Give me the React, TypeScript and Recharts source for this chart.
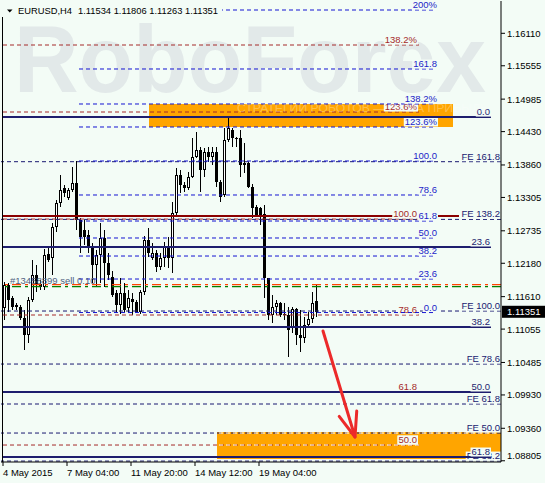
import React from "react";
import { ComposedChart, Bar, XAxis, YAxis, ReferenceLine, ReferenceArea } from "recharts";

const BG = "#F3FCF6";
const FONT = "'Liberation Sans', Arial, sans-serif";
const FS = 9.5;

// EURUSD H4 candles
const opens = [
  1.11415, 1.11808, 1.11586, 1.11467, 1.11432, 1.11244, 1.10954, 1.11552, 1.11979, 1.11826,
  1.11774, 1.12338, 1.1227, 1.128, 1.1321, 1.13466, 1.13295, 1.13432, 1.13552, 1.12919,
  1.12748, 1.12663, 1.12458, 1.1215, 1.12321, 1.12612, 1.12184, 1.11945, 1.11672, 1.11467,
  1.11672, 1.11415, 1.11569, 1.11518, 1.11347, 1.11689, 1.12577, 1.1227, 1.12355, 1.12116,
  1.1227, 1.12458, 1.1227, 1.13039, 1.13688, 1.13517, 1.13466, 1.13654, 1.13996, 1.14116,
  1.13774, 1.14081, 1.13996, 1.14081, 1.13569, 1.13346, 1.14286, 1.14457, 1.14321, 1.14321,
  1.13893, 1.13893, 1.13483, 1.13141, 1.13124, 1.13022, 1.11928, 1.11296, 1.11432, 1.11501,
  1.11313, 1.11296, 1.11073, 1.11398, 1.10954, 1.10903, 1.11125, 1.11227, 1.11534,
];
const highs = [
  1.1186, 1.11843, 1.1162, 1.11501, 1.11467, 1.11381, 1.11603, 1.12236, 1.1215, 1.11894,
  1.12424, 1.12458, 1.12868, 1.13261, 1.13688, 1.13517, 1.13466, 1.13825, 1.13928, 1.12953,
  1.12919, 1.12748, 1.12526, 1.12407, 1.12868, 1.12748, 1.12355, 1.12048, 1.11723, 1.11928,
  1.11843, 1.11723, 1.11672, 1.11552, 1.11723, 1.12646, 1.12782, 1.12526, 1.12407, 1.12355,
  1.12543, 1.12629, 1.13227, 1.13808, 1.13774, 1.13569, 1.1374, 1.14321, 1.14423, 1.14167,
  1.1415, 1.14167, 1.14167, 1.14167, 1.13603, 1.14492, 1.14662, 1.14492, 1.14338, 1.14457,
  1.14235, 1.1391, 1.13535, 1.13176, 1.13141, 1.13176, 1.11928, 1.11637, 1.11552, 1.11518,
  1.11501, 1.11432, 1.11432, 1.11415, 1.11381, 1.11262, 1.11347, 1.11689, 1.11806,
];
const lows = [
  1.1121, 1.11347, 1.11381, 1.11381, 1.1121, 1.10698, 1.10817, 1.11518, 1.11689, 1.11723,
  1.11723, 1.12201, 1.11979, 1.12714, 1.13141, 1.13312, 1.13261, 1.13398, 1.12748, 1.12355,
  1.12492, 1.12355, 1.11843, 1.11774, 1.11843, 1.11774, 1.11894, 1.11603, 1.1133, 1.11313,
  1.11347, 1.1133, 1.11296, 1.1133, 1.11313, 1.11637, 1.12287, 1.12236, 1.12031, 1.12065,
  1.12116, 1.12099, 1.12013, 1.13005, 1.13381, 1.13398, 1.13432, 1.13637, 1.13979, 1.13398,
  1.13654, 1.1391, 1.13859, 1.13483, 1.13227, 1.13312, 1.14252, 1.14167, 1.14167, 1.13654,
  1.13722, 1.13466, 1.12953, 1.13056, 1.12834, 1.11586, 1.1121, 1.11159, 1.11296, 1.11262,
  1.1121, 1.10578, 1.10988, 1.10783, 1.10663, 1.10817, 1.11073, 1.11159, 1.11263,
];
const closes = [
  1.11808, 1.11552, 1.11432, 1.11432, 1.11244, 1.10954, 1.11552, 1.11979, 1.11808, 1.11774,
  1.12321, 1.12236, 1.128, 1.1321, 1.13432, 1.13381, 1.13432, 1.13552, 1.12919, 1.12629,
  1.12629, 1.12441, 1.1215, 1.12321, 1.12612, 1.12184, 1.11979, 1.11637, 1.11467, 1.11672,
  1.11381, 1.11586, 1.11518, 1.11347, 1.11689, 1.12577, 1.12355, 1.12355, 1.12116, 1.1227,
  1.12458, 1.1227, 1.13039, 1.13688, 1.13517, 1.13466, 1.13654, 1.13996, 1.14116, 1.13774,
  1.14081, 1.13996, 1.14081, 1.13569, 1.13312, 1.14286, 1.14492, 1.14321, 1.14303, 1.13859,
  1.13859, 1.13483, 1.13124, 1.1297, 1.1297, 1.11928, 1.11296, 1.11432, 1.11501, 1.11296,
  1.11296, 1.11039, 1.11398, 1.10954, 1.10903, 1.11125, 1.11227, 1.11501, 1.11351,
];

const SLOTS = 125; // chart shifted, empty bars on the right
const xTickIdx = [0, 16, 32, 48, 64];
const xTickLabels = ["4 May 2015", "7 May 04:00", "11 May 20:00", "14 May 12:00", "19 May 04:00"];
const yTicks = [
  1.1611, 1.15555, 1.14985, 1.1443, 1.1386, 1.13305, 1.12735, 1.1218, 1.1161, 1.11055,
  1.10485, 1.0993, 1.0936, 1.08805,
];
const yDomain = [1.08784, 1.16662];

// blue fibo expansion, drawn from bar 19 to bar 108
const blueLabels = ["200%", "161.8", "138.2%", "123.6%", "100.0", "78.6", "61.8", "50.0", "38.2", "23.6", "0.0"];
const blueLevels = [1.16508, 1.155, 1.14902, 1.14509, 1.13928, 1.13347, 1.12902, 1.12612, 1.12304, 1.11911, 1.11338];
// brown fibo, bar 0 to 104
const brownLabels = ["138.2%", "123.6%", "100.0", "78.6", "61.8", "50.0"];
const brownLevels = [1.1591, 1.14765, 1.12936, 1.11296, 1.0998, 1.09074];
// navy solid fibo, bar 0 to 122
const navyLabels = ["0.0", "23.6", "38.2", "50.0", "61.8"];
const navyLevels = [1.14678, 1.12458, 1.11091, 1.0998, 1.08869];
// FE levels, full width
const feLabels = ["FE 161.8", "FE 138.2", "FE 100.0", "FE 78.6", "FE 61.8", "FE 50.0", "FE 38.2"];
const feLevels = [1.13916, 1.1293, 1.11364, 1.10458, 1.09775, 1.09279, 1.088];

const resistance = 1.12988;
const orderSell = 1.11814;
const orderStop = 1.1178;
const lastPrice = 1.11351;
const topZone = [1.14509, 1.14902];
const bottomZone = [1.08835, 1.09296];
const arrowFrom = { x: 80, y: 1.11022 };
const arrowTo = { x: 88, y: 1.09211 };

const rows = Array.from({ length: SLOTS }, (_, i) =>
  i < opens.length
    ? { i, o: opens[i], h: highs[i], l: lows[i], c: closes[i], range: [lows[i], highs[i]] }
    : { i }
);

function textWidth(s: string, fs: number) {
  let w = 0;
  for (const ch of s) {
    if (ch === "." || ch === " ") w += 0.278;
    else if (ch === "%") w += 0.889;
    else if (ch === "F") w += 0.611;
    else if (ch === "E") w += 0.667;
    else w += 0.556;
  }
  return w * fs;
}

const endLabel = (text: string, color: string, dx: number) => (props: any) => {
  const vb = props.viewBox;
  if (!vb) return null;
  const right = vb.x + vb.width + dx;
  const base = vb.y - 2;
  const w = textWidth(text, FS);
  return (
    <g>
      <rect x={right - w - 1} y={base - 7.5} width={w + 2} height={9} fill={BG} />
      <text x={right} y={base} textAnchor="end" fontSize={FS} fontFamily={FONT} fill={color}>
        {text}
      </text>
    </g>
  );
};

function Candle(props: any) {
  const { x, y, width, height, payload } = props;
  if (!payload || payload.o == null) return null;
  const { o, h, l, c } = payload;
  const py = (p: number) => y + ((h - p) / (h - l || 1)) * height;
  const cx = Math.round(x + width / 2);
  const top = Math.round(py(Math.max(o, c)));
  const bot = Math.round(py(Math.min(o, c)));
  const up = c >= o;
  return (
    <g>
      <line x1={cx + 0.5} x2={cx + 0.5} y1={Math.round(y)} y2={Math.round(y + height)} stroke="#000" />
      {bot - top < 2 ? (
        <line x1={cx - 1} x2={cx + 2} y1={top + 0.5} y2={top + 0.5} stroke="#000" />
      ) : up ? (
        <rect x={cx - 0.5} y={top + 0.5} width={2} height={bot - top - 1} fill="#fff" stroke="#000" />
      ) : (
        <rect x={cx - 1} y={top} width={3} height={bot - top} fill="#000" />
      )}
    </g>
  );
}

function Arrow(props: any) {
  const { x1, y1, x2, y2 } = props;
  const a = Math.atan2(y2 - y1, x2 - x1);
  const len = 26;
  const s = 0.36;
  const w1x = x2 - len * Math.cos(a - s);
  const w1y = y2 - len * Math.sin(a - s);
  const w2x = x2 - len * Math.cos(a + s);
  const w2y = y2 - len * Math.sin(a + s);
  return (
    <g stroke="#EC2A2A" strokeWidth={3} fill="none" strokeLinecap="round" strokeLinejoin="round">
      <line x1={x1} y1={y1} x2={x2} y2={y2} />
      <polyline points={`${w1x},${w1y} ${x2},${y2} ${w2x},${w2y}`} />
    </g>
  );
}

function XTick(props: any) {
  const { x, y, payload } = props;
  const k = xTickIdx.indexOf(payload.value);
  if (k < 0) return null;
  return (
    <text x={x} y={y + 8} fontSize={FS} fontFamily={FONT} fill="#000">
      {xTickLabels[k]}
    </text>
  );
}

function YTick(props: any) {
  const { x, y, payload } = props;
  return (
    <text x={x} y={Math.min(y + 3.5, 459)} fontSize={FS} fontFamily={FONT} fill="#000">
      {Number(payload.value).toFixed(5)}
    </text>
  );
}

const PriceBox = (props: any) => {
  const vb = props.viewBox;
  if (!vb) return null;
  const x = vb.x + vb.width + 1;
  return (
    <g>
      <rect x={x} y={vb.y - 6} width={44} height={12} fill="#000" />
      <text x={x + 5} y={vb.y + 3.5} fontSize={FS} fontFamily={FONT} fill="#fff">
        {lastPrice.toFixed(5)}
      </text>
    </g>
  );
};

const OrderLabel = (props: any) => {
  const vb = props.viewBox;
  if (!vb) return null;
  return (
    <text x={vb.x + 9} y={vb.y - 1} fontSize={FS} fontFamily={FONT} fill="#4F6080">
      #13458899 sell 0.10
    </text>
  );
};

export default function App() {
  return (
    <div style={{ position: "absolute", left: 0, top: 0, width: 545, height: 483, background: BG, overflow: "hidden" }}>
      <svg width={545} height={483} style={{ position: "absolute", left: 0, top: 0 }}>
        <text
          x={14}
          y={92}
          fontSize={94}
          fontWeight={700}
          fontFamily={FONT}
          fill="#E2E9E9"
          textLength={472}
          lengthAdjust="spacingAndGlyphs"
        >
          RoboForex
        </text>
      </svg>
      <div style={{ position: "absolute", left: 0, top: 0 }}>
        <ComposedChart width={545} height={483} data={rows} margin={{ top: 1, right: 0, bottom: 0, left: 1 }}>
          <XAxis
            dataKey="i"
            type="category"
            ticks={xTickIdx}
            interval={0}
            height={21}
            tickSize={4}
            tickMargin={2}
            tick={<XTick />}
            axisLine={{ stroke: "#000" }}
            tickLine={{ stroke: "#000" }}
          />
          <YAxis
            orientation="right"
            type="number"
            domain={yDomain}
            allowDataOverflow
            ticks={yTicks}
            interval={0}
            width={44}
            tickSize={4}
            tickMargin={2}
            tick={<YTick />}
            axisLine={{ stroke: "#000" }}
            tickLine={{ stroke: "#000" }}
          />
          <ReferenceArea x1={37} x2={112} y1={topZone[0]} y2={topZone[1]} fill="#FFA500" fillOpacity={1} stroke="none" />

          <ReferenceLine
            segment={[{ x: 0, y: resistance }, { x: 114, y: resistance }]}
            stroke="#8B0000"
            strokeWidth={2}
          />

          {feLevels.map((v, k) => (
            <ReferenceLine key={"fe" + k} y={v} stroke="#191970" strokeDasharray="4 3" label={endLabel(feLabels[k], "#191970", -1)} />
          ))}

          {brownLevels.map((v, k) => (
            <ReferenceLine
              key={"br" + k}
              segment={[{ x: 0, y: v }, { x: 104, y: v }]}
              stroke="#A52A2A"
              strokeDasharray="4 3"
              label={endLabel(brownLabels[k], "#A52A2A", -2)}
            />
          ))}

          <ReferenceArea x1={54} x2={124} y1={bottomZone[0]} y2={bottomZone[1]} fill="#FFA500" fillOpacity={1} stroke="none" />
          <ReferenceLine segment={[{ x: 54, y: feLevels[5] }, { x: 124, y: feLevels[5] }]} stroke="#fff" strokeDasharray="4 3" />
          <ReferenceLine
            segment={[{ x: 54, y: brownLevels[5] }, { x: 104, y: brownLevels[5] }]}
            stroke="#fff"
            strokeDasharray="4 3"
            label={endLabel(brownLabels[5], "#A52A2A", -2)}
          />

          {blueLevels.map((v, k) => (
            <ReferenceLine
              key={"bl" + k}
              segment={[{ x: 19, y: v }, { x: 108, y: v }]}
              stroke="#1414D2"
              strokeDasharray="4 3"
              label={endLabel(blueLabels[k], "#1C1CC8", 2)}
            />
          ))}

          {navyLevels.map((v, k) => (
            <ReferenceLine
              key={"nv" + k}
              segment={[{ x: 0, y: v }, { x: 122, y: v }]}
              stroke="#1E1E6E"
              strokeWidth={2}
              label={endLabel(navyLabels[k], "#1E1E6E", -1)}
            />
          ))}

          <ReferenceLine y={orderSell} stroke="#FF4500" strokeWidth={1.3} strokeDasharray="9 4 3 4" label={OrderLabel} />
          <ReferenceLine y={orderStop} stroke="#008000" strokeWidth={1.3} strokeDasharray="9 4 3 4" />

          <Bar dataKey="range" barSize={3} shape={<Candle />} isAnimationActive={false} />

          <ReferenceLine segment={[arrowFrom, arrowTo]} shape={Arrow} />
          <ReferenceLine y={lastPrice} stroke="none" label={PriceBox} />
        </ComposedChart>
      </div>
      <svg width={545} height={483} style={{ position: "absolute", left: 0, top: 0, pointerEvents: "none" }}>
        <text
          x={237}
          y={112}
          fontSize={11}
          fontFamily={FONT}
          fill="#FFFFFF"
          fillOpacity={0.3}
          textLength={251}
          lengthAdjust="spacingAndGlyphs"
        >
          СТРАТЕГИЙ РОБОТОВ — ВАША ПРИБЫЛЬ
        </text>
        <rect x={0} y={0} width={222} height={17} fill={BG} />
        <polygon points="7,9.5 12.5,9.5 9.75,12.5" fill="#000" />
        <text x={18} y={14} fontSize={FS} fontFamily={FONT} fill="#000" textLength={54} lengthAdjust="spacingAndGlyphs">
          EURUSD,H4
        </text>
        <text x={78} y={14} fontSize={FS} fontFamily={FONT} fill="#000" textLength={140} lengthAdjust="spacingAndGlyphs">
          1.11534 1.11806 1.11263 1.11351
        </text>
        <line x1={2.5} x2={2.5} y1={17} y2={462} stroke="#000" />
      </svg>
    </div>
  );
}
